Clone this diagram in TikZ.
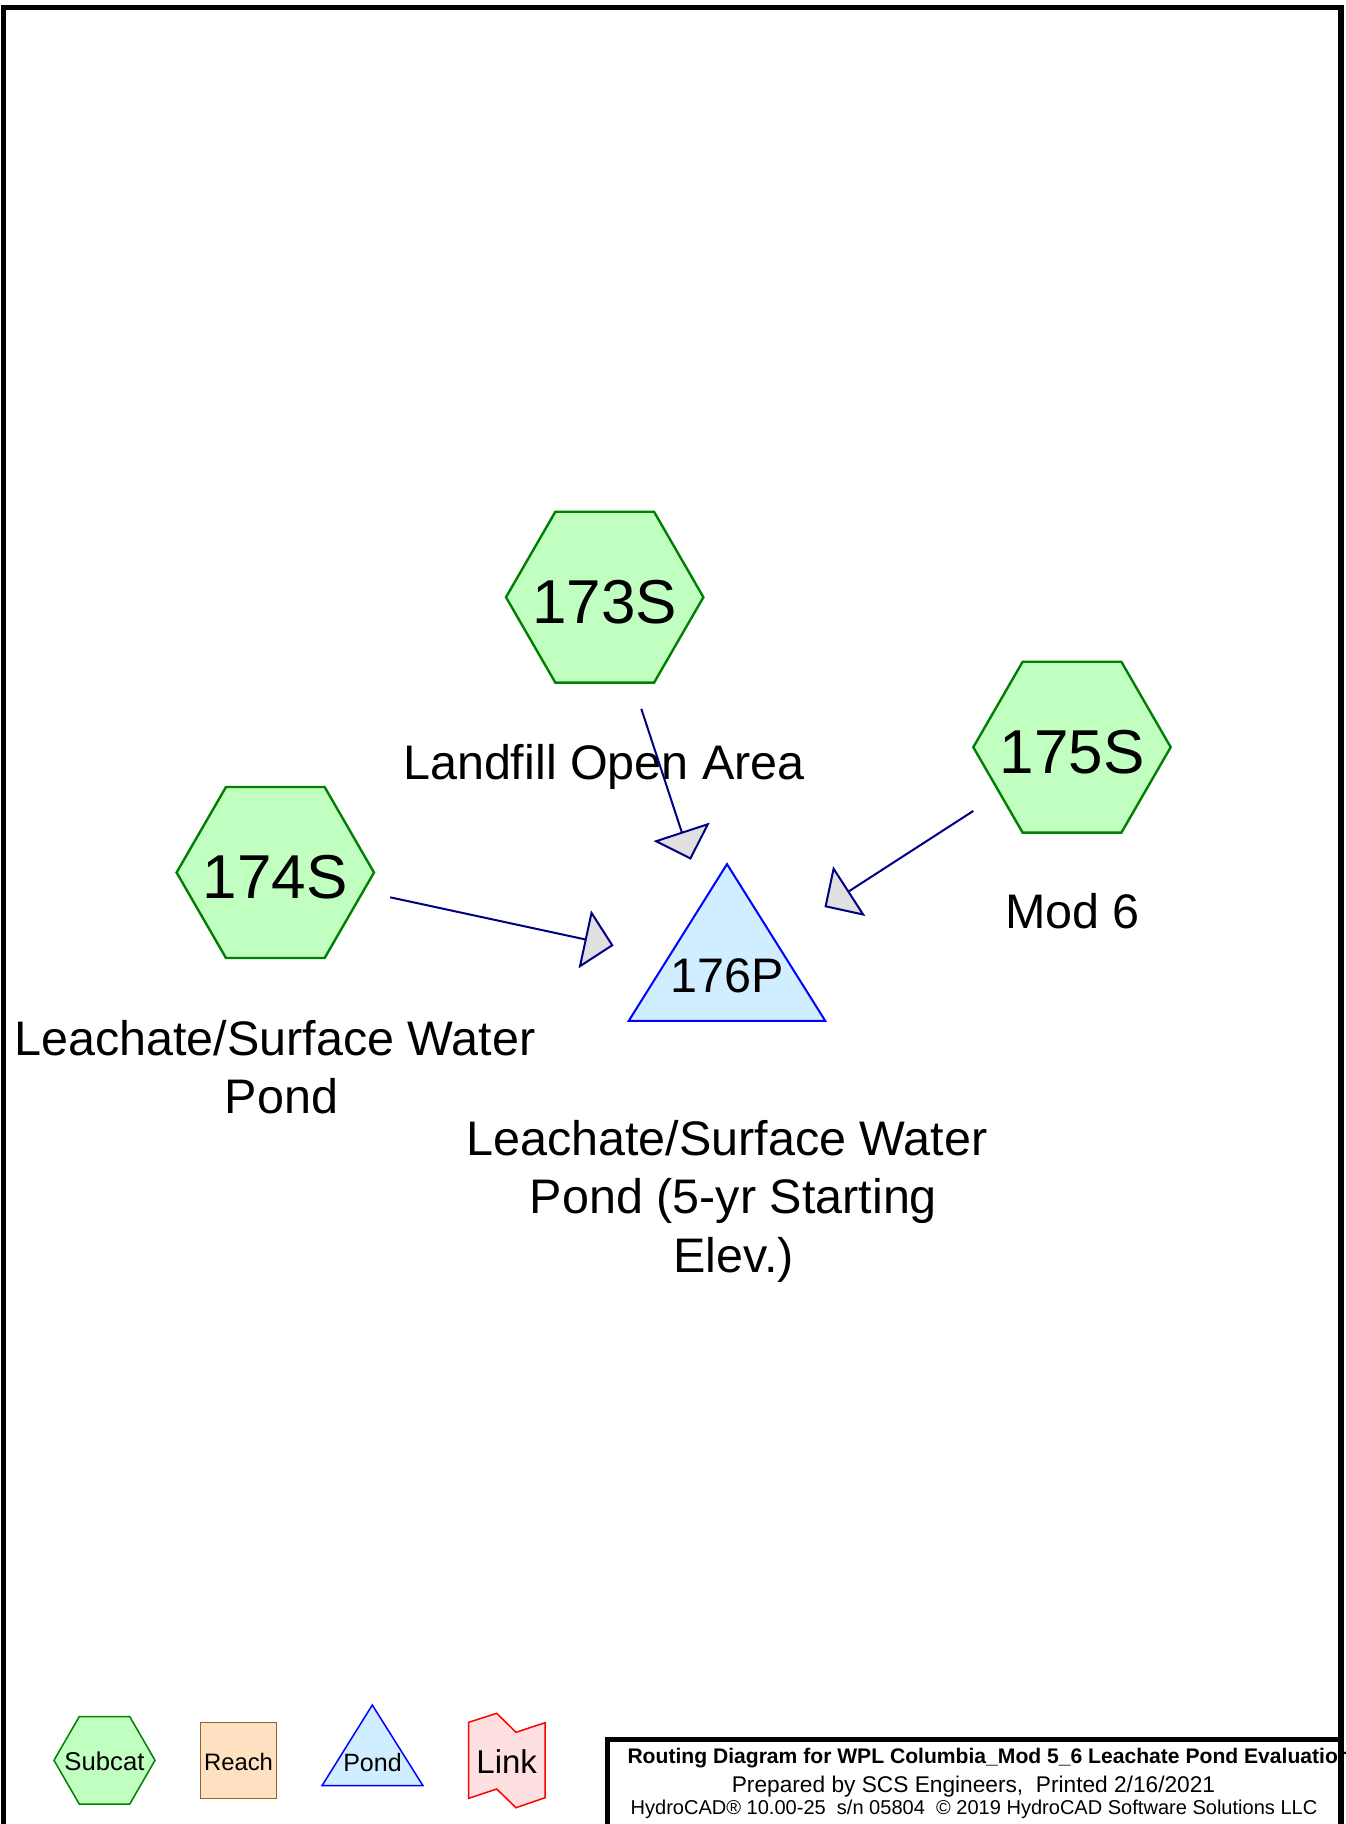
\documentclass[tikz,border=0pt]{standalone}
\usepackage{fontspec}
\setmainfont{Liberation Sans}
\usetikzlibrary{shapes.geometric,arrows.meta}

\definecolor{subfill}{HTML}{C0FFC0}
\definecolor{subline}{HTML}{008000}
\definecolor{pondfill}{HTML}{D0EEFF}
\definecolor{pondline}{HTML}{0000FF}
\definecolor{flowline}{HTML}{000080}
\definecolor{headfill}{HTML}{E0E0E0}
\definecolor{reachfill}{HTML}{FFE0C0}
\definecolor{reachline}{HTML}{99602A}
\definecolor{linkfill}{HTML}{FFE0E0}
\definecolor{linkline}{HTML}{FF0000}

% centred text that takes no room, its baseline #1 below the node centre
\newcommand\idtext[2]{\makebox[0pt]{\raisebox{-#1}[0pt][0pt]{#2}}}

\tikzset{
  subcat/.style={regular polygon, regular polygon sides=6, minimum size=197.4pt,
    inner sep=0pt, draw=subline, fill=subfill, line width=2.4pt,
    font=\fontsize{62}{62}\selectfont},
  pondid/.style={inner sep=0pt, font=\fontsize{48.5}{48.5}\selectfont,
    text height=45.6pt, text depth=0pt},
  lbl/.style={inner sep=0pt, font=\fontsize{48.5}{58.5}\selectfont, align=center, anchor=base},
  flow/.style={draw=flowline, line width=2pt,
    -{Triangle[length=29.5pt,width=59pt,fill=headfill]},
    shorten <=117.5pt, shorten >=116pt},
  pondshape/.style={draw=pondline, fill=pondfill, line width=2pt},
  legsub/.style={regular polygon, regular polygon sides=6, minimum size=101pt,
    inner sep=0pt, draw=subline, fill=subfill, line width=1.5pt,
    font=\fontsize{25.7}{26}\selectfont},
  legreach/.style={rectangle, minimum width=76.4pt, minimum height=76pt, inner sep=0pt,
    draw=reachline, fill=reachfill, line width=1.5pt,
    font=\fontsize{23.8}{24}\selectfont, text height=19.4pt, text depth=0pt},
  legpond/.style={draw=pondline, fill=pondfill, line width=1.5pt},
  leglink/.style={draw=linkline, fill=linkfill, line width=1.5pt},
  legtext/.style={inner sep=0pt, anchor=base},
  frameline/.style={line width=5.5pt, line cap=rect},
  titletext/.style={inner sep=0pt, anchor=base},
}

\begin{document}
\begin{tikzpicture}[x=1pt,y=-1pt]
  \useasboundingbox (0,0) rectangle (1345,1824);
  \fill[white] (0,0) rectangle (1345,1824);

  % subcatchments
  \node[subcat] (h173) at (604.7,597.2) {\idtext{26pt}{173S}};
  \node[subcat] (h174) at (275.3,872.5) {\idtext{26pt}{174S}};
  \node[subcat] (h175) at (1072,747.2) {\idtext{26pt}{175S}};

  % pond
  \draw[pondshape] (727,864.1) -- (825.3,1020.9) -- (628.7,1020.9) -- cycle;
  \node[pondid] (p176) at (727,970) {176P};

  % descriptions (base anchor sits on the last line)
  \node[lbl] (l173) at (604,779.5) {Landfill Open Area};
  \node[lbl] (l175) at (1072.5,928.8) {Mod 6};
  \node[lbl] (l174) at (281.6,1113.7) {Leachate/Surface Water\rule{13.5pt}{0pt}\\Pond};
  \node[lbl] (l176) at (733.5,1272.3) {Leachate/Surface Water\rule{13.5pt}{0pt}\\Pond (5-yr Starting\\Elev.)};

  % routing
  \draw[flow] (h173.center) -- (p176.center);
  \draw[flow] (h174.center) -- (p176.center);
  \draw[flow] (h175.center) -- (p176.center);

  % legend
  \node[legsub] (ksub) at (104.5,1760.3) {\idtext{9.7pt}{Subcat}};
  \node[legreach] (kreach) at (238.5,1760.3) {Reach};
  \draw[legpond] (372.3,1705) -- (423,1785.7) -- (322,1785.7) -- cycle;
  \node[legtext, font=\fontsize{25}{25}\selectfont] (kpond) at (372.5,1771) {Pond};
  \draw[leglink] (468.7,1722.3) -- (496.7,1713.3) -- (516,1732.3) -- (545,1722.7)
    -- (545,1797.7) -- (516,1807.7) -- (496.7,1789) -- (468.7,1798.3) -- cycle;
  \node[legtext, font=\fontsize{33}{33}\selectfont] (klink) at (506.7,1773.3) {Link};

  % title block
  \node[titletext, anchor=base west, font=\bfseries\fontsize{21.1}{21}\selectfont] (t1)
    at (627.3,1763) {Routing Diagram for WPL Columbia\_Mod 5\_6 Leachate Pond Evaluation};
  \node[titletext, font=\fontsize{22.7}{23}\selectfont] (t2)
    at (973.5,1792) {Prepared by SCS Engineers,\ \ Printed 2/16/2021};
  \node[titletext, font=\fontsize{20.04}{21}\selectfont] (t3)
    at (974,1814) {HydroCAD® 10.00-25\ \ s/n 05804\ \ © 2019 HydroCAD Software Solutions LLC};

  % page frame and title box border
  \draw[frameline] (607.5,1830) -- (607.5,1739.5) -- (1341,1739.5);
  \draw[frameline] (3.5,1830) -- (3.5,7.5) -- (1341,7.5) -- (1341,1830);
\end{tikzpicture}
\end{document}
